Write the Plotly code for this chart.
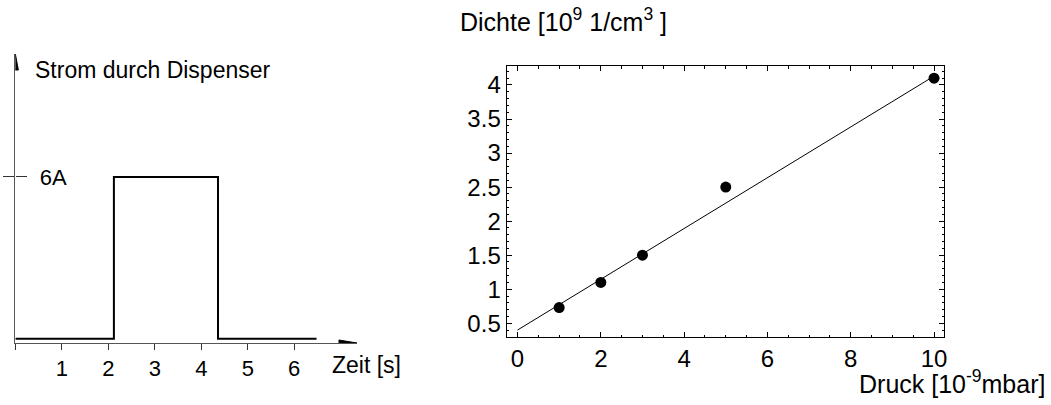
import plotly.graph_objects as go

# left panel: dispenser current pulse
zeit = [0, 2.12, 4.36, 6.48]
strom = [0.15, 6, 0.15, 0.15]
zeit_ticks = [1, 2, 3, 4, 5, 6]

# right panel: density vs pressure
druck = [1, 2, 3, 5, 10]
dichte = [0.73, 1.1, 1.5, 2.5, 4.1]
fit_x = [0, 10]
fit_y = [0.40, 4.13]

W, H = 1051, 405
FONT = "Liberation Sans, Arial, Helvetica, sans-serif"

fig = go.Figure()

# step trace sits on the overlay axis so that axis (with the 6A label) gets drawn
fig.add_trace(go.Scatter(x=zeit, y=strom, mode="lines", line_shape="hv",
                         line=dict(color="black", width=2),
                         xaxis="x", yaxis="y3", showlegend=False, cliponaxis=False))

fig.add_trace(go.Scatter(x=fit_x, y=fit_y, mode="lines",
                         line=dict(color="black", width=1),
                         xaxis="x2", yaxis="y2", showlegend=False))
fig.add_trace(go.Scatter(x=druck, y=dichte, mode="markers",
                         marker=dict(color="black", size=11),
                         xaxis="x2", yaxis="y2", showlegend=False, cliponaxis=False))

left_x = dict(domain=[15.4 / W, 358 / W], range=[0, 7.35],
              showgrid=False, zeroline=False, showline=True, linecolor="#555", linewidth=1,
              tickvals=zeit_ticks, ticks="outside", ticklen=6,
              tickcolor="#333", tickfont=dict(size=22, color="black"), anchor="y",
              minor=dict(tickvals=[0], ticks="outside", ticklen=6, tickcolor="#333"))
left_y = dict(domain=[1 - 343 / H, 1 - 54 / H], range=[0, 10.44],
              showgrid=False, zeroline=False, showline=True, linecolor="#555", linewidth=1,
              tickvals=[6], ticks="outside", ticklen=11, tickcolor="#333",
              showticklabels=False, anchor="x")
# right-hand half of the 6A tick plus its label
left_y3 = dict(overlaying="y", side="right", anchor="free", position=15.4 / W,
               range=[0, 10.44], showgrid=False, zeroline=False, showline=False,
               tickvals=[6], ticktext=["6A"], ticks="outside", ticklen=11, tickcolor="#333",
               ticklabelstandoff=8, tickfont=dict(size=22, color="black"))

frame = dict(showgrid=False, zeroline=False, showline=True, linecolor="black", linewidth=1,
             mirror="allticks", ticks="inside", ticklen=5, tickcolor="black",
             tickfont=dict(size=24, color="black"))
right_x = dict(frame, domain=[508 / W, 947 / W], range=[-0.263, 10.246],
               tick0=0, dtick=2, anchor="y2",
               minor=dict(dtick=0.5, ticks="inside", ticklen=2.5, tickcolor="black"))
right_y = dict(frame, domain=[1 - 337 / H, 1 - 66 / H], range=[0.298, 4.279],
               tick0=0.5, dtick=0.5, anchor="x2",
               minor=dict(dtick=0.1, ticks="inside", ticklen=2.5, tickcolor="black"))

fig.update_layout(
    width=W, height=H,
    margin=dict(l=0, r=0, t=0, b=0),
    paper_bgcolor="white", plot_bgcolor="white",
    font=dict(family=FONT, color="black"),
    xaxis=left_x, yaxis=left_y, yaxis3=left_y3,
    xaxis2=right_x, yaxis2=right_y,
)

# arrow heads on the left axes
fig.add_shape(type="path", xref="x", yref="y", xsizemode="pixel", ysizemode="pixel",
              xanchor=7.35, yanchor=0, path="M0,0 L-18,3 L-18,-3 Z",
              fillcolor="black", line=dict(color="black", width=1))
fig.add_shape(type="path", xref="x", yref="y", xsizemode="pixel", ysizemode="pixel",
              xanchor=0, yanchor=10.44, path="M0,0 L-3,-16 L3,-16 Z",
              fillcolor="black", line=dict(color="black", width=1))

labels = [
    ("Strom durch Dispenser", 33, 70, "left", 23),
    ("Zeit [s]", 331, 365, "left", 23),
    ("Dichte [10<sup>9</sup> 1/cm<sup>3</sup> ]", 459, 20, "left", 25),
    ("Druck [10<sup>-9</sup>mbar]", 1050, 382, "right", 25),
]
for text, px, py, anchor, size in labels:
    fig.add_annotation(text=text, xref="paper", yref="paper", x=px / W, y=1 - py / H,
                       xanchor=anchor, yanchor="middle", showarrow=False,
                       font=dict(size=size, color="black"))

fig.write_html("out.html", config={"displayModeBar": False},
               post_script="document.body.style.margin = '0';")
